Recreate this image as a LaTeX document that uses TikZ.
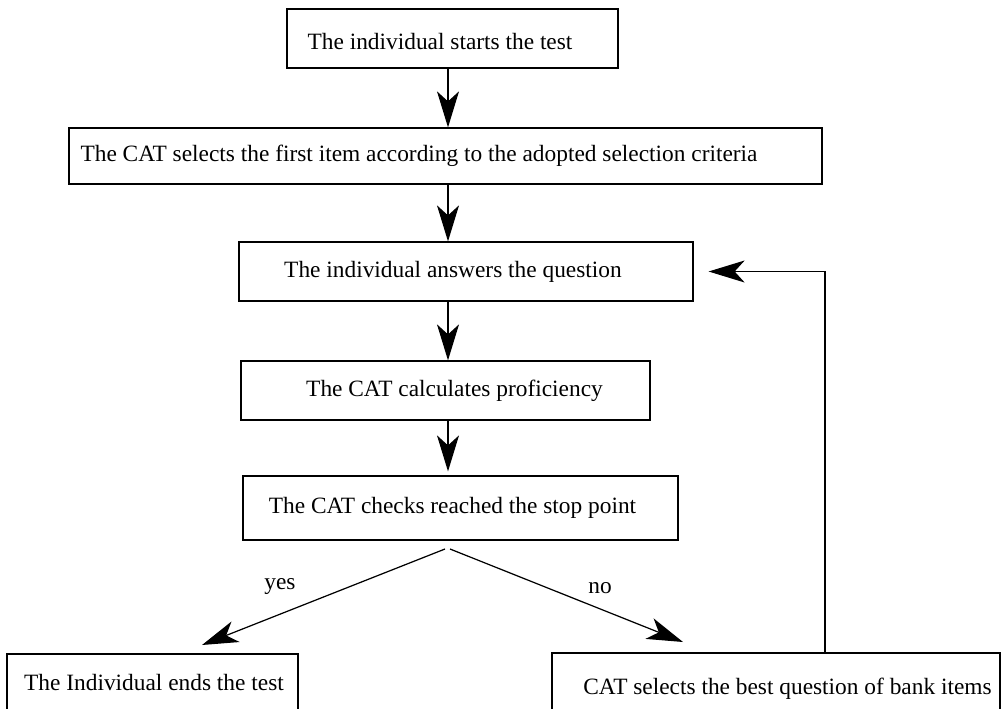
\documentclass[tikz,border=0pt]{standalone}
\usepackage{fontspec}
\setmainfont{Liberation Serif}
\usetikzlibrary{arrows.meta,calc,positioning}

\begin{document}
\begin{tikzpicture}[>={Stealth[length=0.72cm,width=0.44cm,inset=0.2cm]}, line width=0.7pt]
    \tikzstyle{stepbox}=[draw, rectangle, inner sep=0pt, minimum height=1.18cm]
    \tikzstyle{steptext}=[font=\fontsize{13.3}{16}\selectfont]

    % Frame of the picture (the two lower boxes run off the bottom)
    \clip (0,0) rectangle (20.12,14.16);

    % Main column of steps (text sits a little off the middle, as drawn)
    \node (start)[stepbox, minimum width=6.62cm,
        label={[name=startText, steptext, xshift=-0.25cm, yshift=-0.06cm]center:The individual starts the test}] at (9.05,13.39) {};
    \node (first)[stepbox, minimum width=15.06cm, minimum height=1.12cm,
        label={[name=firstText, steptext, xshift=-0.53cm]center:The CAT selects the first item according to the adopted selection criteria}] at (8.91,11.04) {};
    \node (answer)[stepbox, minimum width=9.08cm,
        label={[name=answerText, steptext, xshift=-0.26cm]center:The individual answers the question}] at (9.32,8.73) {};
    \node (prof)[stepbox, minimum width=8.18cm,
        label={[name=profText, steptext, xshift=0.18cm]center:The CAT calculates proficiency}] at (8.91,6.35) {};
    \node (check)[stepbox, minimum width=8.70cm, minimum height=1.28cm,
        label={[name=checkText, steptext, xshift=-0.16cm]center:The CAT checks reached the stop point}] at (9.21,4.00) {};

    % The two outcomes
    \node (finish)[stepbox, minimum width=5.82cm,
        label={[name=finishText, steptext, xshift=0.03cm, yshift=0.03cm]center:The Individual ends the test}] at (3.05,0.49) {};
    \node (select)[stepbox, minimum width=8.96cm,
        label={[name=selectText, steptext, xshift=0.23cm, yshift=-0.12cm]center:CAT selects the best question of bank items}] at (15.52,0.51) {};

    % Spine of the vertical arrows
    \coordinate (spine) at (8.96,0);

    \draw[->] (start.south -| spine) -- (first.north -| spine);
    \draw[->] (first.south -| spine) -- (answer.north -| spine);
    \draw[->] (answer.south -| spine) -- (prof.north -| spine);
    \draw[->] (prof.south -| spine) -- ($(check.north -| spine)+(0,0.08)$);

    % Fork below the stop point check
    \coordinate (forkL) at (8.90,3.18);
    \coordinate (forkR) at (9.00,3.18);
    \coordinate (yesTip) at (4.04,1.26);
    \coordinate (noTip) at (13.66,1.32);

    \draw[->] (forkL) -- (yesTip);
    \draw[->] (forkR) -- (noTip);
    \node (yes)[steptext] at (5.6,2.42) {yes};
    \node (no)[steptext] at (12.0,2.40) {no};

    % Loop back to the next question
    \coordinate (loop) at (16.50,0);
    \draw[->] (select.north -| loop) |- ([xshift=0.3cm]answer.east);
\end{tikzpicture}
\end{document}
